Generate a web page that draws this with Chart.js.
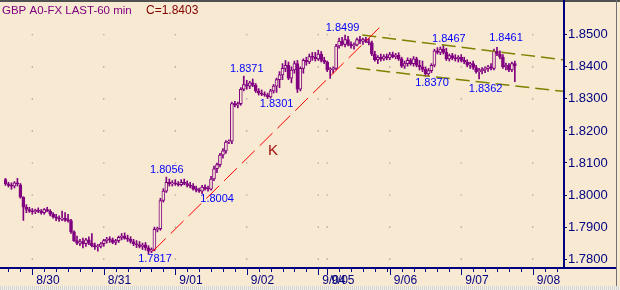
<!DOCTYPE html>
<html><head><meta charset="utf-8">
<script src="https://cdn.jsdelivr.net/npm/chart.js@4.4.0/dist/chart.umd.min.js"></script>
<style>
html,body{margin:0;padding:0;background:#F8EAD2;}
#wrap{position:relative;width:620px;height:290px;overflow:hidden;}
canvas{display:block;}
#sb{position:absolute;left:0;top:286px;width:620px;height:4px;background:repeating-linear-gradient(90deg,#d6d3cc 0 1px,#f2f0ea 1px 2px);}
</style></head><body>
<div id="wrap"><canvas id="c" width="620" height="290"></canvas><div id="sb"></div></div>
<script>
// ---- data (60-min bars, GBP) ----
const open = [
1.8048,1.8035,1.8030,1.8028,1.8038,1.8032,1.7993,1.7962,1.7955,1.7950,1.7948,1.7952,
1.7950,1.7945,1.7955,1.7950,1.7940,1.7932,1.7928,1.7925,1.7928,1.7922,1.7920,1.7885,
1.7858,1.7850,1.7855,1.7848,1.7860,1.7850,1.7842,1.7838,1.7840,1.7848,1.7858,1.7862,
1.7860,1.7852,1.7858,1.7868,1.7872,1.7865,1.7862,1.7855,1.7848,1.7845,1.7840,1.7845,
1.7835,1.7825,1.7830,1.7893,1.7895,1.7983,1.8012,1.8040,1.8035,1.8038,1.8035,1.8032,
1.8040,1.8036,1.8030,1.8028,1.8020,1.8015,1.8012,1.8025,1.8020,1.8018,1.8050,1.8082,
1.8095,1.8125,1.8138,1.8165,1.8168,1.8285,1.8280,1.8285,1.8330,1.8345,1.8340,1.8350,
1.8342,1.8325,1.8318,1.8315,1.8312,1.8306,1.8325,1.8340,1.8360,1.8375,1.8395,1.8405,
1.8365,1.8390,1.8410,1.8330,1.8395,1.8420,1.8415,1.8432,1.8430,1.8425,1.8440,1.8420,
1.8415,1.8390,1.8392,1.8395,1.8465,1.8480,1.8470,1.8485,1.8470,1.8465,1.8468,1.8485,
1.8480,1.8485,1.8478,1.8475,1.8440,1.8422,1.8430,1.8425,1.8432,1.8428,1.8438,1.8432,
1.8436,1.8425,1.8402,1.8410,1.8420,1.8410,1.8425,1.8405,1.8400,1.8392,1.8378,1.8388,
1.8405,1.8450,1.8445,1.8455,1.8445,1.8425,1.8435,1.8428,1.8425,1.8430,1.8420,1.8415,
1.8405,1.8410,1.8398,1.8385,1.8388,1.8392,1.8395,1.8400,1.8395,1.8448,1.8440,1.8430,
1.8400,1.8405,1.8390,1.8410];
const high = [
1.8052,1.8040,1.8038,1.8042,1.8052,1.8036,1.7995,1.7970,1.7962,1.7958,1.7956,1.7960,
1.7955,1.7958,1.7962,1.7955,1.7945,1.7940,1.7935,1.7950,1.7945,1.7940,1.7924,1.7888,
1.7872,1.7862,1.7866,1.7865,1.7870,1.7880,1.7850,1.7846,1.7852,1.7862,1.7868,1.7870,
1.7866,1.7862,1.7872,1.7880,1.7882,1.7875,1.7870,1.7862,1.7858,1.7855,1.7850,1.7852,
1.7842,1.7835,1.7900,1.7900,1.7990,1.8020,1.8056,1.8050,1.8045,1.8048,1.8042,1.8048,
1.8050,1.8044,1.8040,1.8036,1.8028,1.8022,1.8030,1.8032,1.8028,1.8058,1.8090,1.8100,
1.8130,1.8145,1.8170,1.8172,1.8290,1.8292,1.8290,1.8335,1.8371,1.8358,1.8355,1.8362,
1.8348,1.8332,1.8328,1.8322,1.8318,1.8330,1.8345,1.8365,1.8385,1.8410,1.8420,1.8415,
1.8400,1.8418,1.8420,1.8400,1.8425,1.8430,1.8440,1.8445,1.8445,1.8452,1.8448,1.8430,
1.8418,1.8398,1.8400,1.8470,1.8490,1.8492,1.8499,1.8495,1.8478,1.8475,1.8490,1.8495,
1.8490,1.8492,1.8488,1.8480,1.8448,1.8435,1.8440,1.8438,1.8440,1.8445,1.8446,1.8442,
1.8444,1.8430,1.8418,1.8428,1.8426,1.8432,1.8430,1.8420,1.8418,1.8400,1.8395,1.8410,
1.8455,1.8460,1.8462,1.8467,1.8458,1.8440,1.8442,1.8438,1.8435,1.8438,1.8430,1.8422,
1.8415,1.8418,1.8405,1.8395,1.8398,1.8400,1.8405,1.8410,1.8455,1.8461,1.8450,1.8438,
1.8412,1.8410,1.8415,1.8418];
const low = [
1.8030,1.8025,1.8018,1.8022,1.8028,1.7990,1.7921,1.7945,1.7946,1.7940,1.7942,1.7945,
1.7940,1.7940,1.7948,1.7935,1.7928,1.7920,1.7918,1.7920,1.7918,1.7915,1.7880,1.7855,
1.7845,1.7842,1.7835,1.7840,1.7845,1.7838,1.7830,1.7825,1.7835,1.7840,1.7850,1.7852,
1.7848,1.7845,1.7852,1.7860,1.7862,1.7855,1.7850,1.7842,1.7836,1.7835,1.7830,1.7828,
1.7817,1.7820,1.7826,1.7885,1.7890,1.7978,1.8008,1.8028,1.8028,1.8030,1.8028,1.8028,
1.8032,1.8025,1.8022,1.8015,1.8010,1.8008,1.8004,1.8015,1.8012,1.8015,1.8045,1.8070,
1.8088,1.8115,1.8130,1.8160,1.8160,1.8275,1.8272,1.8280,1.8325,1.8330,1.8332,1.8338,
1.8320,1.8312,1.8310,1.8308,1.8301,1.8302,1.8318,1.8320,1.8335,1.8360,1.8385,1.8360,
1.8350,1.8380,1.8320,1.8325,1.8380,1.8405,1.8410,1.8420,1.8418,1.8420,1.8415,1.8410,
1.8385,1.8364,1.8380,1.8390,1.8458,1.8465,1.8462,1.8465,1.8458,1.8455,1.8465,1.8472,
1.8470,1.8475,1.8468,1.8435,1.8418,1.8410,1.8418,1.8420,1.8422,1.8422,1.8428,1.8425,
1.8420,1.8398,1.8395,1.8402,1.8405,1.8402,1.8400,1.8390,1.8385,1.8370,1.8372,1.8382,
1.8400,1.8440,1.8438,1.8440,1.8420,1.8418,1.8422,1.8418,1.8415,1.8415,1.8410,1.8400,
1.8395,1.8392,1.8380,1.8362,1.8378,1.8382,1.8386,1.8390,1.8390,1.8435,1.8425,1.8395,
1.8390,1.8385,1.8385,1.8354];
const close = [
1.8035,1.8030,1.8028,1.8038,1.8035,1.7993,1.7962,1.7955,1.7950,1.7948,1.7952,1.7950,
1.7945,1.7955,1.7950,1.7940,1.7932,1.7928,1.7925,1.7928,1.7922,1.7920,1.7885,1.7858,
1.7850,1.7855,1.7848,1.7860,1.7850,1.7842,1.7838,1.7840,1.7848,1.7858,1.7862,1.7860,
1.7852,1.7858,1.7868,1.7872,1.7865,1.7862,1.7855,1.7848,1.7845,1.7840,1.7845,1.7835,
1.7825,1.7830,1.7893,1.7895,1.7983,1.8012,1.8040,1.8035,1.8038,1.8035,1.8032,1.8040,
1.8036,1.8030,1.8028,1.8020,1.8015,1.8012,1.8025,1.8020,1.8018,1.8050,1.8082,1.8095,
1.8125,1.8138,1.8165,1.8168,1.8285,1.8280,1.8285,1.8330,1.8345,1.8340,1.8350,1.8342,
1.8325,1.8318,1.8315,1.8312,1.8306,1.8325,1.8340,1.8360,1.8375,1.8395,1.8405,1.8365,
1.8390,1.8410,1.8330,1.8395,1.8420,1.8415,1.8432,1.8430,1.8425,1.8440,1.8420,1.8415,
1.8390,1.8392,1.8395,1.8465,1.8480,1.8470,1.8485,1.8470,1.8465,1.8468,1.8485,1.8480,
1.8485,1.8478,1.8475,1.8440,1.8422,1.8430,1.8425,1.8432,1.8428,1.8438,1.8432,1.8436,
1.8425,1.8402,1.8410,1.8420,1.8410,1.8425,1.8405,1.8400,1.8392,1.8378,1.8388,1.8405,
1.8450,1.8445,1.8455,1.8445,1.8425,1.8435,1.8428,1.8425,1.8430,1.8420,1.8415,1.8405,
1.8410,1.8398,1.8385,1.8388,1.8392,1.8395,1.8400,1.8395,1.8448,1.8440,1.8430,1.8400,
1.8405,1.8390,1.8410,1.8403];

// day boundaries (bar index of first bar of each day) and labels
const dayStart  = [9, 33, 57, 81, 105, 108, 129, 153, 177];
const dayLabels = ['8/30','8/31','9/01','9/02','9/04','9/05','9/06','9/07','9/08'];
const priceTicks = [1.78,1.79,1.80,1.81,1.82,1.83,1.84,1.85];
const lastClose = '1.8403';

// trend lines drawn on the chart (bar index, price)
const trendK     = [{x:49.5, y:1.7825}, {x:126.8, y:1.8534}];
const channelTop = [{x:119.8, y:1.8499}, {x:187.17, y:1.8422}];
const channelBot = [{x:117.8, y:1.8396}, {x:187.17, y:1.83235}];

// price annotations: bar index, price, text
const marks = [
  {i:114, p:1.8499, t:'1.8499'}, {i:147, p:1.8467, t:'1.8467'}, {i:165, p:1.8461, t:'1.8461'},
  {i:80,  p:1.8371, t:'1.8371'}, {i:88,  p:1.8301, t:'1.8301'}, {i:141, p:1.8370, t:'1.8370'},
  {i:159, p:1.8362, t:'1.8362'}, {i:54,  p:1.8056, t:'1.8056'}, {i:66,  p:1.8004, t:'1.8004'},
  {i:48,  p:1.7817, t:'1.7817'}];
const kLabel = {x:89.8, y:1.8138, t:'K'};

// ---- styles ----
const BG = '#F8EAD2', PURPLE = '#800080', NAVY = '#000080';
const markOffsets = [[-2.5,-7.5],[5.5,-6.7],[9,-9],[3,-7],[9,5.7],[6.5,6.5],[6.5,10],[0.5,-7.5],[15,5],[6.5,5]];

Chart.defaults.font.family = '"Liberation Sans", Arial, sans-serif';

const idx = open.map((_, i) => i);
const bodies = idx.map(i => ({x:i, y:[Math.min(open[i], close[i]), Math.max(open[i], close[i])]}));
const wicks  = idx.map(i => ({x:i, y:[low[i], high[i]]}));
const bodyFill = idx.map(i => close[i] >= open[i] ? BG : PURPLE);
const dots = [];
dayStart.forEach(d => priceTicks.forEach(p => dots.push({x:d, y:p})));

const XMIN = -0.5, XMAX = 187.1667;

const deco = {
  id: 'deco',
  beforeDraw(c) {
    const g = c.ctx; g.save(); g.fillStyle = BG; g.fillRect(0, 0, c.width, c.height); g.restore();
  },
  afterDraw(c) {
    const g = c.ctx, xs = c.scales.x, ys = c.scales.y, ca = c.chartArea;
    g.save();
    // frame
    g.fillStyle = '#505050'; g.fillRect(0, 0, 620, 2);
    g.fillStyle = NAVY;
    g.fillRect(563, 0, 2, 269);
    g.fillRect(0, 267, 617, 2);
    g.fillStyle = '#707070'; g.fillRect(616, 0, 1, 290);
    // bottom tick marks
    g.strokeStyle = NAVY; g.lineWidth = 1;
    const ticks = [];
    for (let v = dayStart[0] - 4; v > XMIN; v -= 4) ticks.push([v, 3]);
    dayStart.forEach((d, k) => {
      const end = k + 1 < dayStart.length ? dayStart[k + 1] : XMAX;
      ticks.push([d, 6]);
      for (let v = d + 4; v < end - 0.5; v += 4) ticks.push([v, 3]);
    });
    g.beginPath();
    ticks.forEach(([v, len]) => {
      const px = Math.round(xs.getPixelForValue(v)) + 0.5;
      g.moveTo(px, 269); g.lineTo(px, 269 + len);
    });
    g.stroke();
    // title
    g.textBaseline = 'alphabetic'; g.textAlign = 'left';
    g.font = '11.5px "Liberation Sans", Arial';
    g.fillStyle = PURPLE; g.fillText('GBP A0-FX LAST-60 min', 2, 13.5);
    g.font = '12px "Liberation Sans", Arial';
    g.fillStyle = '#800000'; g.fillText('C=' + lastClose, 146, 13.5);
    // price marks
    g.font = '11px "Liberation Sans", Arial';
    g.textAlign = 'center'; g.textBaseline = 'middle'; g.fillStyle = '#0000FF';
    marks.forEach((m, k) => {
      const px = xs.getPixelForValue(m.i) + markOffsets[k][0];
      const py = ys.getPixelForValue(m.p) + markOffsets[k][1];
      g.fillText(m.t, px, py);
    });
    g.font = '15px "Liberation Sans", Arial'; g.fillStyle = '#A01010';
    g.fillText(kLabel.t, xs.getPixelForValue(kLabel.x), ys.getPixelForValue(kLabel.y));
    g.restore();
  }
};

new Chart(document.getElementById('c'), {
  type: 'bar',
  data: {
    datasets: [
      {type:'bar', data: bodies, backgroundColor: bodyFill, borderColor: PURPLE, borderWidth: 1,
       borderSkipped: false, barThickness: 3, grouped: false, minBarLength: 1, order: 1},
      {type:'bar', data: wicks, backgroundColor: PURPLE, borderWidth: 0,
       barThickness: 1, grouped: false, order: 2},
      {type:'line', data: trendK, borderColor: '#FF0000', borderWidth: 1, borderDash: [18, 7],
       pointRadius: 0, fill: false, order: 0},
      {type:'line', data: channelTop, borderColor: '#808000', borderWidth: 1.5, borderDash: [14, 6],
       pointRadius: 0, fill: false, order: 0},
      {type:'line', data: channelBot, borderColor: '#808000', borderWidth: 1.5, borderDash: [14, 6],
       pointRadius: 0, fill: false, order: 0},
      {type:'scatter', data: dots, pointStyle: 'rect', pointRadius: 0.8, backgroundColor: '#8a8a8a',
       borderWidth: 0, order: 5}
    ]
  },
  options: {
    responsive: false, animation: false, events: [],
    layout: {padding: {top: 2, left: 0, right: 0, bottom: 0}},
    plugins: {legend: {display: false}, tooltip: {enabled: false}},
    scales: {
      x: {
        type: 'linear', min: XMIN, max: XMAX, offset: false,
        grid: {display: false, drawTicks: false}, border: {display: false},
        afterBuildTicks: s => { s.ticks = dayStart.map(v => ({value: v})); },
        ticks: {callback: (v, i) => dayLabels[i], align: 'start', labelOffset: 4, padding: 5,
                color: NAVY, font: {size: 12}, autoSkip: false, maxRotation: 0},
        afterFit: s => { s.height = 22; s.paddingLeft = 0; s.paddingRight = 0; }
      },
      y: {
        type: 'linear', position: 'right', min: 1.77724, max: 1.8596,
        afterBuildTicks: s => { s.ticks = priceTicks.map(v => ({value: v})); },
        ticks: {callback: v => v.toFixed(4), color: NAVY, font: {size: 13}, padding: 1},
        grid: {drawOnChartArea: false, tickLength: 4, tickColor: NAVY},
        border: {display: false},
        afterFit: s => { s.width = 57; s.paddingTop = 0; s.paddingBottom = 0; }
      }
    }
  },
  plugins: [deco]
});
</script>
</body></html>
